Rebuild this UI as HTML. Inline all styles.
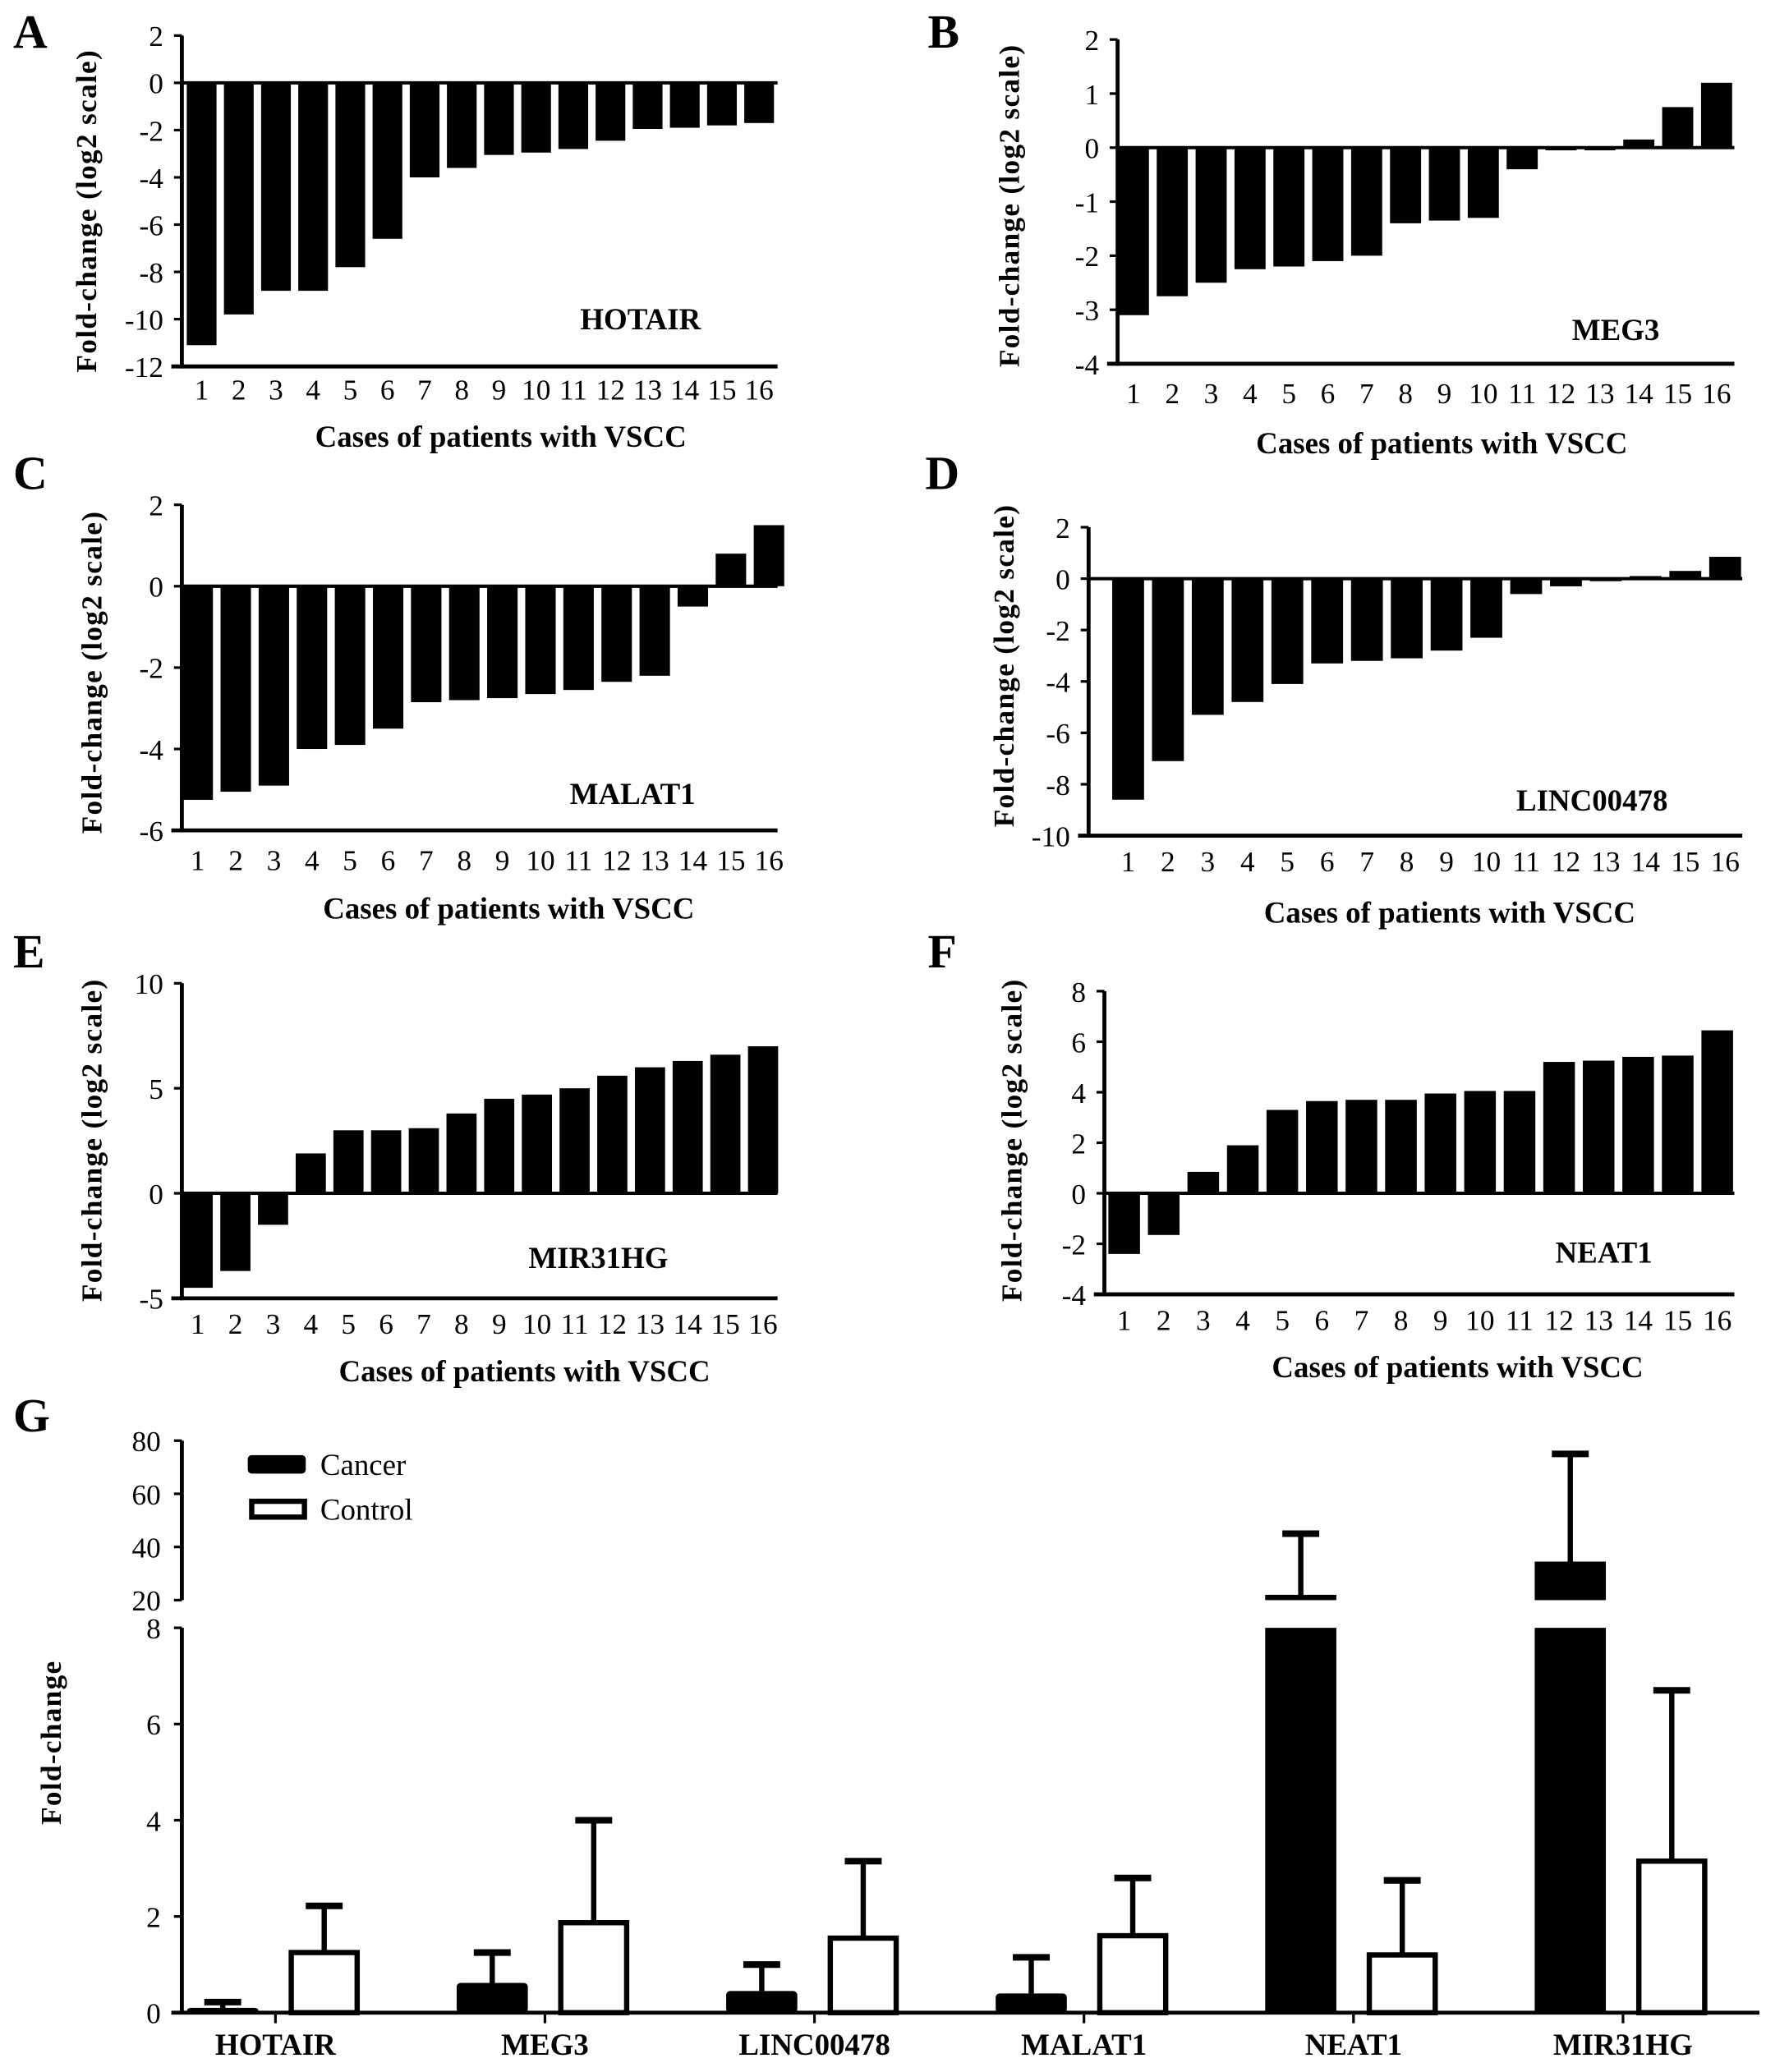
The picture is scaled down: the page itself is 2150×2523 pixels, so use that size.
<!DOCTYPE html>
<html><head><meta charset="utf-8"><style>
html,body{margin:0;padding:0;background:#fff;}
svg{display:block;}
text{font-family:"Liberation Serif",serif;fill:#000;}
</style></head>
<body>
<svg id="fig" width="2150" height="2523" viewBox="0 0 1340 1572" preserveAspectRatio="none" xmlns="http://www.w3.org/2000/svg"></svg>
<script>
// ---- data ----
const cases = ["1","2","3","4","5","6","7","8","9","10","11","12","13","14","15","16"];
const hotairVals = [-11.1,-9.8,-8.8,-8.8,-7.8,-6.6,-4.0,-3.6,-3.05,-2.95,-2.8,-2.45,-1.95,-1.9,-1.8,-1.7];
const meg3Vals = [-3.1,-2.75,-2.5,-2.25,-2.2,-2.1,-2.0,-1.4,-1.35,-1.3,-0.4,-0.05,-0.05,0.15,0.75,1.2];
const malat1Vals = [-5.25,-5.05,-4.9,-4.0,-3.9,-3.5,-2.85,-2.8,-2.75,-2.65,-2.55,-2.35,-2.2,-0.5,0.8,1.5];
const lincVals = [-8.6,-7.1,-5.3,-4.8,-4.1,-3.3,-3.2,-3.1,-2.8,-2.3,-0.6,-0.3,-0.1,0.1,0.3,0.85];
const mir31Vals = [-4.5,-3.7,-1.5,1.9,3.0,3.0,3.1,3.8,4.5,4.7,5.0,5.6,6.0,6.3,6.6,7.0];
const neat1Vals = [-2.4,-1.65,0.85,1.9,3.3,3.65,3.7,3.7,3.95,4.05,4.05,5.2,5.25,5.4,5.45,6.45];
const ticksA = [2,0,-2,-4,-6,-8,-10,-12];
const ticksB = [2,1,0,-1,-2,-3,-4];
const ticksC = [2,0,-2,-4,-6];
const ticksD = [2,0,-2,-4,-6,-8,-10];
const ticksE = [10,5,0,-5];
const ticksF = [8,6,4,2,0,-2,-4];
const genes = ["HOTAIR","MEG3","LINC00478","MALAT1","NEAT1","MIR31HG"];
const cancerMean = [0.1,0.62,0.45,0.4,22,34.5];
const cancerErr = [0.22,1.25,1.0,1.15,45,75];
const controlMean = [1.25,1.87,1.55,1.6,1.2,3.15];
const controlErr = [2.22,4.0,3.15,2.8,2.75,6.7];
const ticksGLow = [0,2,4,6,8];
const ticksGHigh = [20,40,60,80];

const NS="http://www.w3.org/2000/svg";
const svg=document.getElementById('fig');
function el(tag,attrs,parent){const e=document.createElementNS(NS,tag);for(const k in attrs)e.setAttribute(k,attrs[k]);(parent||svg).appendChild(e);return e;}
function txt(s,attrs,parent){const t=el('text',attrs,parent);t.textContent=s;return t;}

function panel(cfg){
  const g=el('g',{});
  
  
  const ymax=cfg.ticks[0], ymin=cfg.ticks[cfg.ticks.length-1];
  const Y=v=>cfg.yTop+(ymax-v)*(cfg.yBot-cfg.yTop)/(ymax-ymin);
  const X=i=>cfg.c0+i*cfg.step;
  const L=txt(cfg.letter,{x:cfg.lx,y:cfg.ly,'font-size':36,'font-weight':'bold'},g);
  
  
  const bw=cfg.step*0.8;
  cfg.vals.forEach((v,i)=>{
    const y0=Y(0),y1=Y(v);
    const r=el('rect',{x:X(i)-bw/2,y:Math.min(y0,y1),width:bw,height:Math.abs(y1-y0),fill:'#000'},g);
    
    
    const t=txt(cases[i],{x:X(i),y:cfg.xtY,'font-size':22,'text-anchor':'middle'},g);
    
    
  });
  const ya=el('line',{x1:cfg.ax,y1:cfg.yTop,x2:cfg.ax,y2:cfg.yBot+1.5,stroke:'#000','stroke-width':3},g);
  
  
  const xa=el('line',{x1:cfg.ax-8,y1:cfg.yBot,x2:cfg.xEnd,y2:cfg.yBot,stroke:'#000','stroke-width':3},g);
  
  
  const zl=el('line',{x1:cfg.ax,y1:Y(0),x2:cfg.xEnd,y2:Y(0),stroke:'#000','stroke-width':2.5},g);
  
  
  cfg.ticks.forEach(v=>{
    el('line',{x1:cfg.ax-6,y1:Y(v),x2:cfg.ax,y2:Y(v),stroke:'#000','stroke-width':2},g);
    const t=txt(String(v),{x:cfg.ax-14,y:Y(v)+8,'font-size':22,'text-anchor':'end'},g);
    
    
  });
  const gl=txt(cfg.gene,{x:cfg.gx,y:cfg.gy,'font-size':23,'font-weight':'bold','text-anchor':'middle'},g);
  
  
  const xt=txt('Cases of patients with VSCC',{x:cfg.xlx,y:cfg.xly,'font-size':23,'font-weight':'bold','text-anchor':'middle'},g);
  
  
  const yt=txt('Fold-change  (log2 scale)',{x:0,y:0,'font-size':22,'font-weight':'bold','text-anchor':'middle','letter-spacing':'0.8',transform:`translate(${cfg.ytx},${cfg.yty}) rotate(-90)`},g);
  
  
}

panel({name:'panel-a-hotair',letter:'A',lx:10,ly:36,vals:hotairVals,ticks:ticksA,ax:138,yTop:27,yBot:278,xEnd:590,c0:153,step:28.2,xtY:303,gene:'HOTAIR',gx:486,gy:250,xlx:380,xly:339,ytx:73,yty:160});
panel({name:'panel-b-meg3',letter:'B',lx:704,ly:36,vals:meg3Vals,ticks:ticksB,ax:848,yTop:30,yBot:276,xEnd:1316,c0:860,step:29.5,xtY:306,gene:'MEG3',gx:1226,gy:258,xlx:1094,xly:344,ytx:773,yty:156});
panel({name:'panel-c-malat1',letter:'C',lx:10,ly:371,vals:malat1Vals,ticks:ticksC,ax:138,yTop:383,yBot:630,xEnd:590,c0:150,step:28.9,xtY:660,gene:'MALAT1',gx:480,gy:610,xlx:386,xly:697,ytx:77,yty:510});
panel({name:'panel-d-linc00478',letter:'D',lx:702,ly:371,vals:lincVals,ticks:ticksD,ax:826,yTop:400,yBot:634,xEnd:1322,c0:856,step:30.2,xtY:661,gene:'LINC00478',gx:1208,gy:615,xlx:1100,xly:700,ytx:769,yty:505});
panel({name:'panel-e-mir31hg',letter:'E',lx:10,ly:734,vals:mir31Vals,ticks:ticksE,ax:138,yTop:746,yBot:985,xEnd:590,c0:150,step:28.6,xtY:1012,gene:'MIR31HG',gx:454,gy:962,xlx:398,xly:1048,ytx:77,yty:865});
panel({name:'panel-f-neat1',letter:'F',lx:704,ly:734,vals:neat1Vals,ticks:ticksF,ax:838,yTop:752,yBot:982,xEnd:1316,c0:853,step:30.0,xtY:1009,gene:'NEAT1',gx:1217,gy:958,xlx:1106,xly:1045,ytx:775,yty:865});

// ---- panel G ----
(function(){
  const g=el('g',{});
  
  
  const ax=138, y0=1527, y8=1235, yU20=1214, yU80=1093;
  const Ylow=v=>y0-v*(y0-y8)/8;
  const Yhigh=v=>yU20-(v-20)*(yU20-yU80)/60;
  const Y=v=>v<=8?Ylow(v):(v>=20?Yhigh(v):yU20);
  const T=i=>209+i*204.5;
  const bw=54;
  const L=txt('G',{x:10,y:1086,'font-size':36,'font-weight':'bold'},g);
  
  
  function errbar(cx,top,eTop){
    el('line',{x1:cx,y1:top,x2:cx,y2:Y(eTop),stroke:'#000','stroke-width':4},g);
    const c=el('line',{x1:cx-14,y1:Y(eTop),x2:cx+14,y2:Y(eTop),stroke:'#000','stroke-width':5},g);
    
    
  }
  genes.forEach((name,i)=>{
    const cc=T(i)-40, kc=T(i)+37;
    const m=cancerMean[i];
    errbar(cc,Y(m),cancerErr[i]);
    if(m>8){
      const r1=el('rect',{x:cc-bw/2,y:y8,width:bw,height:y0-y8,fill:'#000'},g);
      
      
      const r2=el('rect',{x:cc-bw/2,y:Yhigh(m),width:bw,height:yU20-Yhigh(m),fill:'#000'},g);
      
      
    } else {
      const r=el('rect',{x:cc-bw/2,y:Ylow(m),width:bw,height:y0-Ylow(m),fill:'#000',rx:3},g);
      
      
    }
    const km=controlMean[i];
    errbar(kc,Y(km),controlErr[i]);
    const r=el('rect',{x:kc-bw/2+2,y:Ylow(km),width:bw-4,height:y0-Ylow(km),fill:'#fff',stroke:'#000','stroke-width':4},g);
    
    
    el('line',{x1:T(i),y1:y0,x2:T(i),y2:y0+8,stroke:'#000','stroke-width':2},g);
    const t=txt(name,{x:T(i),y:1559,'font-size':23,'font-weight':'bold','text-anchor':'middle'},g);
    
    
  });
  const ya1=el('line',{x1:ax,y1:y8,x2:ax,y2:y0,stroke:'#000','stroke-width':3},g);
  
  
  const ya2=el('line',{x1:ax,y1:yU80,x2:ax,y2:yU20,stroke:'#000','stroke-width':3},g);
  
  
  const xa=el('line',{x1:130,y1:y0,x2:1335,y2:y0,stroke:'#000','stroke-width':3},g);
  
  
  ticksGLow.forEach(v=>{
    el('line',{x1:ax-6,y1:Ylow(v),x2:ax,y2:Ylow(v),stroke:'#000','stroke-width':2},g);
    const t=txt(String(v),{x:ax-16,y:Ylow(v)+8,'font-size':22,'text-anchor':'end'},g);
    
    
  });
  ticksGHigh.forEach(v=>{
    el('line',{x1:ax-6,y1:Yhigh(v),x2:ax,y2:Yhigh(v),stroke:'#000','stroke-width':2},g);
    const t=txt(String(v),{x:ax-16,y:Yhigh(v)+8,'font-size':22,'text-anchor':'end'},g);
    
    
  });
  const yt=txt('Fold-change',{x:0,y:0,'font-size':22,'font-weight':'bold','text-anchor':'middle','letter-spacing':'0.8',transform:'translate(46,1322) rotate(-90)'},g);
  
  
  const lg=el('g',{},g);
  
  
  const s1=el('rect',{x:188,y:1104,width:44,height:14,rx:3,fill:'#000'},lg);
  
  
  const l1=txt('Cancer',{x:243,y:1119,'font-size':23},lg);
  
  
  const s2=el('rect',{x:191,y:1139,width:40,height:12,fill:'#fff',stroke:'#000','stroke-width':4},lg);
  
  
  const l2=txt('Control',{x:243,y:1153,'font-size':23},lg);
  
  
})();
</script>
</body></html>
